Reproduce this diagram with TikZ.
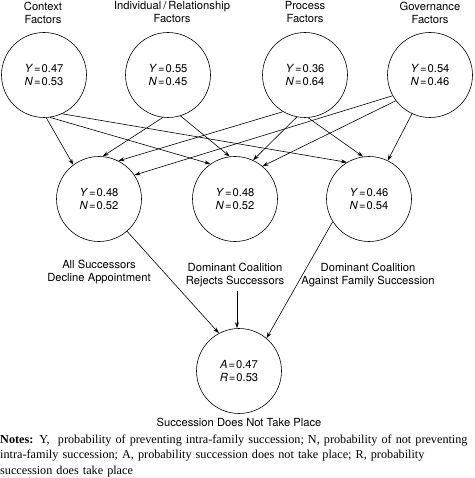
\documentclass[tikz,border=0pt]{standalone}
\usepackage{fontspec}
\setmainfont{Liberation Serif}
\setsansfont{TeX Gyre Heros}
\usetikzlibrary{arrows.meta}
\begin{document}
\begin{tikzpicture}[x=1pt,y=-1pt,
  prob/.style={circle,draw,line width=0.6pt,minimum size=85pt,inner sep=0pt,
    font=\sffamily\fontsize{11.2}{13}\selectfont,align=center},
  lbl/.style={font=\sffamily\fontsize{11.2}{13}\selectfont,align=center,inner sep=0pt},
  arr/.style={line width=0.6pt,-{Stealth[length=6pt,width=4pt]}}]
\useasboundingbox (0,0) rectangle (474,478);
\newcommand{\pv}[4]{\textit{#1}\kern1pt=\kern1pt#2\\\textit{#3}\kern1pt=\kern1pt#4}
% top row
\node[prob] (ctx) at (44,75) {\pv{Y}{0.47}{N}{0.53}};
\node[prob] (ind) at (168,75) {\pv{Y}{0.55}{N}{0.45}};
\node[prob] (proc) at (305,75) {\pv{Y}{0.36}{N}{0.64}};
\node[prob] (gov) at (430,75) {\pv{Y}{0.54}{N}{0.46}};
\node[lbl] (tctx) at (43,12.5) {Context\\Factors};
\node[lbl] (tind) at (172,12.5) {Individual\kern2pt/\kern2pt Relationship\\Factors};
\node[lbl] (tproc) at (305,12.5) {Process\\Factors};
\node[lbl] (tgov) at (430,12.5) {Governance\\Factors};
% middle row
\node[prob] (L) at (99,199) {\pv{Y}{0.48}{N}{0.52}};
\node[prob] (M) at (235,199) {\pv{Y}{0.48}{N}{0.52}};
\node[prob] (R) at (369,199) {\pv{Y}{0.46}{N}{0.54}};
\node[lbl] (dL) at (99,272.5) {All Successors\\Decline Appointment};
\node[lbl] (dM) at (235,275.5) {Dominant Coalition\\Rejects Successors};
\node[lbl] (dR) at (368,275.5) {Dominant Coalition\\Against Family Succession};
% bottom
\node[prob] (B) at (239,371) {\pv{A}{0.47}{R}{0.53}};
\node[lbl] (tB) at (239,422) {Succession Does Not Take Place};
% arrows top -> middle
\draw[arr] (ctx.-87) -- (L.127);
\draw[arr] (ctx.-82) -- (M.125);
\draw[arr] (ctx.-65) -- (R.121);
\draw[arr] (ind.-97) -- (L.85);
\draw[arr] (ind.-73) -- (M.97);
\draw[arr] (proc.-121) -- (L.63);
\draw[arr] (proc.-101) -- (M.65);
\draw[arr] (proc.-86) -- (R.98);
\draw[arr] (gov.-151) -- (L.34);
\draw[arr] (gov.-143) -- (M.50);
\draw[arr] (gov.-115) -- (R.64);
% arrows to bottom
\draw[arr] (L.-49) -- (B.118);
\draw[arr] (R.-148) -- (B.50);
\path (dM.south) ++(2,3) coordinate (dMs);
\draw[arr] (dMs) -- (B.north -| dMs);
% notes
\node[anchor=base west,inner sep=0pt,text width=480pt,align=left,
  font=\fontsize{12.2}{15.5}\selectfont] (notes) at (0,443)
  {\textbf{Notes:} Y,\ \ probability of preventing intra-family succession; N, probability of not preventing\\
   intra-family succession; A, probability succession does not take place; R, probability\\
   succession does take place};
\end{tikzpicture}
\end{document}
